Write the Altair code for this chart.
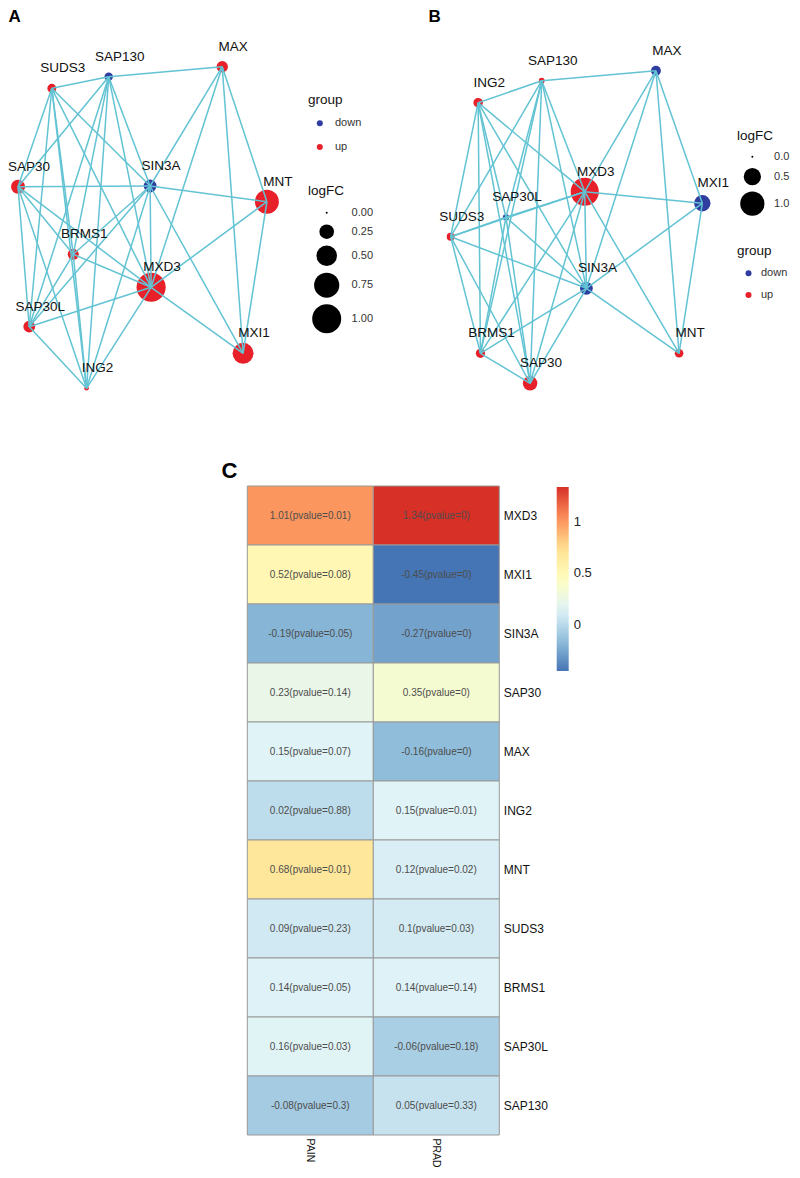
import altair as alt
import pandas as pd

# ---------------- data ----------------
# Panel A network (PAIN) : node layout positions
genes_A = ["SUDS3", "SAP130", "MAX", "SAP30", "SIN3A", "MNT", "BRMS1", "MXD3", "SAP30L", "MXI1", "ING2"]
layoutA_x = [46.7, 104.0, 218.3, 12.7, 145.7, 263.3, 68.3, 146.7, 24.0, 239.3, 81.7]
layoutA_y = [88.3, 76.7, 66.7, 186.7, 186.0, 201.7, 254.3, 287.3, 326.7, 353.3, 388.3]

# Panel B network (PRAD)
genes_B = ["MAX", "SAP130", "ING2", "MXD3", "MXI1", "SAP30L", "SUDS3", "SIN3A", "BRMS1", "MNT", "SAP30"]
layoutB_x = [655.0, 540.0, 476.0, 583.3, 701.7, 504.0, 448.3, 585.0, 478.3, 678.3, 528.3]
layoutB_y = [70.7, 80.7, 102.7, 191.7, 203.3, 217.3, 236.7, 288.3, 353.3, 353.3, 383.3]

# Interaction edges (same network in both panels)
edge_from = ["SIN3A", "SIN3A", "SIN3A", "SIN3A", "SIN3A", "SIN3A", "SIN3A",
             "MXD3", "MXD3", "MXD3", "MXD3", "MXD3", "MXD3",
             "SAP30", "SAP30", "SAP30", "SAP30", "SAP30",
             "SAP30L", "SAP30L", "SAP30L", "SAP30L",
             "SUDS3", "SUDS3", "SUDS3",
             "BRMS1", "BRMS1", "ING2",
             "MAX", "MAX", "MAX", "MAX", "MAX",
             "MNT", "MNT", "MNT", "MXI1", "MXI1"]
edge_to = ["MXD3", "SAP30", "SAP30L", "SUDS3", "BRMS1", "ING2", "SAP130",
           "SAP30", "SAP30L", "SUDS3", "BRMS1", "ING2", "SAP130",
           "SAP30L", "SUDS3", "BRMS1", "ING2", "SAP130",
           "SUDS3", "BRMS1", "ING2", "SAP130",
           "BRMS1", "ING2", "SAP130",
           "ING2", "SAP130", "SAP130",
           "SAP130", "MXD3", "SIN3A", "MNT", "MXI1",
           "MXD3", "SIN3A", "MXI1", "MXD3", "SIN3A"]

# Heatmap (panel C)
heat_genes = ["MXD3", "MXI1", "SIN3A", "SAP30", "MAX", "ING2", "MNT", "SUDS3", "BRMS1", "SAP30L", "SAP130"]
cohorts = ["PAIN", "PRAD"]
logfc_PAIN = [1.01, 0.52, -0.19, 0.23, 0.15, 0.02, 0.68, 0.09, 0.14, 0.16, -0.08]
pval_PAIN = [0.01, 0.08, 0.05, 0.14, 0.07, 0.88, 0.01, 0.23, 0.05, 0.03, 0.3]
logfc_PRAD = [1.34, -0.45, -0.27, 0.35, -0.16, 0.15, 0.12, 0.1, 0.14, -0.06, 0.05]
pval_PRAD = [0, 0, 0, 0, 0, 0.01, 0.02, 0.03, 0.14, 0.18, 0.33]

# panel letters (position of the letter's top-left corner)
panel_letters = ["A", "B", "C"]
letter_x = [3.0, 426.0, 217.5]
letter_y = [9.0, 9.0, 461.0]
letter_size = [17, 17, 22]

# ---------------- build tables ----------------
map_PAIN = dict(zip(heat_genes, logfc_PAIN))
map_PRAD = dict(zip(heat_genes, logfc_PRAD))


def nodes_df(genes, xs, ys, lfc):
    vals = [lfc[g] for g in genes]
    return pd.DataFrame({
        "gene": genes, "x": xs, "y": ys, "logFC": vals,
        "absFC": [abs(v) for v in vals],
        "group": ["up" if v > 0 else "down" for v in vals],
    })


def edges_df(nd):
    px = dict(zip(nd.gene, nd.x))
    py = dict(zip(nd.gene, nd.y))
    return pd.DataFrame({
        "x": [px[a] for a in edge_from], "y": [py[a] for a in edge_from],
        "x2": [px[b] for b in edge_to], "y2": [py[b] for b in edge_to],
    })


nA = nodes_df(genes_A, layoutA_x, layoutA_y, map_PAIN)
nB = nodes_df(genes_B, layoutB_x, layoutB_y, map_PRAD)
eA = edges_df(nA)
eB = edges_df(nB)
letters_df = pd.DataFrame({"t": panel_letters, "x": letter_x, "y": letter_y, "s": letter_size})

FONT = "Liberation Sans"
EDGE = "#62C3D3"
grp_scale = alt.Scale(domain=["down", "up"], range=["#2E3D9F", "#E7202A"])
xs = alt.Scale(domain=[2.6, 792], nice=False, zero=False)
ys = alt.Scale(domain=[8, 428], nice=False, zero=False, reverse=True)
X = alt.X("x:Q", scale=xs, axis=None)
Y = alt.Y("y:Q", scale=ys, axis=None)

common_leg = dict(orient="none", padding=0, symbolStrokeWidth=0, symbolType="circle",
                  titleFontSize=13.5, titleFontWeight="normal", titleColor="#111",
                  titleFont=FONT, labelFont=FONT, labelFontSize=11, labelColor="#333")


def network(nd, ed, size_range, size_values, size_fmt, grp_leg, size_leg):
    nodes = alt.Chart(nd).mark_circle(opacity=1).encode(
        x=X, y=Y,
        color=alt.Color("group:N", scale=grp_scale,
                        legend=alt.Legend(title="group", symbolSize=36, **grp_leg, **common_leg)),
        size=alt.Size("absFC:Q", scale=alt.Scale(domain=[0, 1], range=size_range),
                      legend=alt.Legend(title="logFC", values=size_values, format=size_fmt,
                                        symbolFillColor="black", **size_leg, **common_leg)),
    )
    edges = alt.Chart(ed).mark_rule(color=EDGE, strokeWidth=1.5).encode(
        x=X, y=Y, x2="x2:Q", y2="y2:Q")
    labels = alt.Chart(nd).mark_text(dx=11, dy=-20, fontSize=13.5, font=FONT, color="#111").encode(
        x=X, y=Y, text="gene:N")
    return nodes, edges, labels


nodesA, edgesA, labelsA = network(
    nA, eA, [4, 841], [0, 0.25, 0.5, 0.75, 1.0], ".2f",
    dict(legendX=300, legendY=85, symbolOffset=6.3, labelOffset=9.7, titlePadding=11.3, rowPadding=11.7),
    dict(legendX=300, legendY=176, symbolOffset=4.2, labelOffset=10.4, titlePadding=9.7, rowPadding=6))
nodesB, edgesB, labelsB = network(
    nB, eB, [4, 590], [0, 0.5, 1.0], ".1f",
    dict(legendX=729, legendY=236.3, symbolOffset=6, labelOffset=7, titlePadding=10, rowPadding=9.7),
    dict(legendX=729, legendY=121, symbolOffset=2.85, labelOffset=9.2, titlePadding=8.7, rowPadding=5.5))

letters = alt.Chart(letters_df).mark_text(align="left", baseline="top",
                                          fontWeight="bold", font=FONT, color="black").encode(
    x=X, y=Y, text="t:N", size=alt.Size("s:Q", scale=None, legend=None))

top = alt.layer(nodesA, nodesB, edgesA, edgesB, labelsA, labelsB, letters).resolve_scale(
    color="independent", size="independent").properties(width=784, height=420)

# ---------------- heatmap ----------------
heat_df = pd.DataFrame({
    "gene": heat_genes * 2,
    "cohort": ["PAIN"] * len(heat_genes) + ["PRAD"] * len(heat_genes),
    "value": logfc_PAIN + logfc_PRAD,
    "p": pval_PAIN + pval_PRAD,
})
heat_df["label"] = [f"{v:g}(pvalue={p:g})" for v, p in zip(heat_df.value, heat_df.p)]

vmin, vmax = min(heat_df.value), max(heat_df.value)
rdylbu = ["#4575B4", "#91BFDB", "#E0F3F8", "#FFFFBF", "#FEE090", "#FC8D59", "#D73027"]
stops = [vmin + i * (vmax - vmin) / 6 for i in range(7)]

hx = alt.X("cohort:N", sort=cohorts,
           scale=alt.Scale(range=[239.3, 491.3], paddingInner=0, paddingOuter=0),
           axis=alt.Axis(orient="bottom", title=None, labelAngle=90, ticks=False, domain=False,
                         labelPadding=3, labelFontSize=10.5, labelColor="#111", labelFont=FONT))
hy = alt.Y("gene:N", sort=heat_genes, scale=alt.Scale(paddingInner=0, paddingOuter=0),
           axis=alt.Axis(orient="right", title=None, ticks=False, domain=False,
                         labelPadding=4, labelFontSize=12, labelColor="#111", labelFont=FONT))

rect = alt.Chart(heat_df).mark_rect(stroke="#999999", strokeWidth=1).encode(
    x=hx, y=hy,
    color=alt.Color("value:Q", scale=alt.Scale(domain=stops, range=rdylbu, interpolate="rgb"),
                    legend=alt.Legend(title=None, orient="none", legendX=548.7, legendY=1,
                                      direction="vertical", gradientLength=184, gradientThickness=12,
                                      gradientStrokeWidth=0, values=[0, 0.5, 1], format="~g",
                                      labelOffset=5, labelFontSize=13, labelColor="#222",
                                      labelFont=FONT, padding=0)))
txt = alt.Chart(heat_df).mark_text(fontSize=10, font=FONT, color="#4D4D4D").encode(
    x=hx, y=hy, text="label:N")

heat = alt.layer(rect, txt).properties(width=491.3, height=649)

chart = alt.vconcat(top, heat, spacing=58, bounds="flush").resolve_scale(
    color="independent", size="independent").properties(padding=0).configure(
    font=FONT).configure_view(stroke=None)

chart.save("out.html", embed_options={"renderer": "svg", "actions": False})
